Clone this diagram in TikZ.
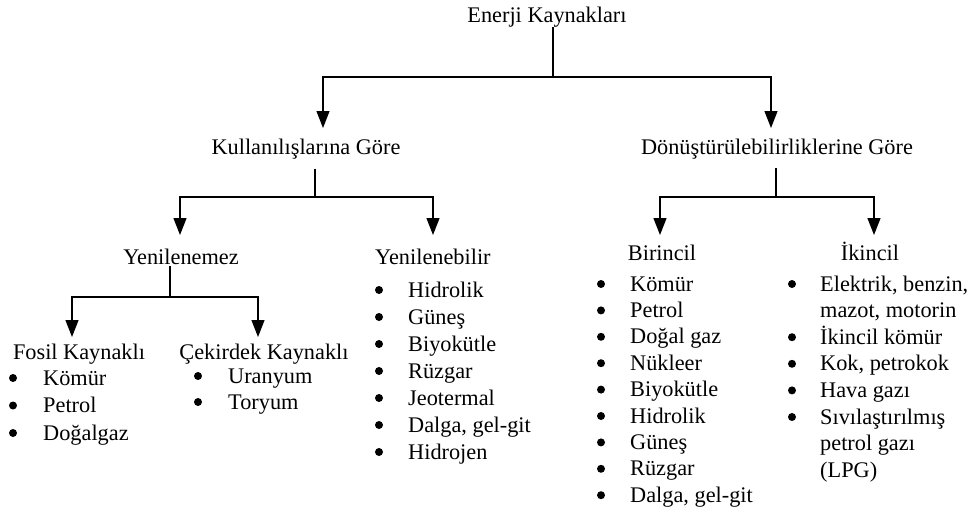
\documentclass[tikz,border=0pt]{standalone}
\usepackage{fontspec}
\setmainfont{Liberation Serif}
\usetikzlibrary{arrows.meta}
\begin{document}
\begin{tikzpicture}[x=1pt,y=-1pt,
  lbl/.style={inner sep=0pt, anchor=base, font=\fontsize{22.3}{26.7}\selectfont},
  item/.style={inner sep=0pt, anchor=base west, font=\fontsize{22.3}{26.7}\selectfont},
  link/.style={line width=1.3pt},
  arr/.style={link, -{Triangle[length=17pt,width=13pt]}},
  dot/.style={circle, fill, inner sep=0pt, minimum size=8pt}
]
\useasboundingbox (0,0) rectangle (972,522);

% headings
\node[lbl] (top)  at (547,22)  {Enerji Kaynakları};
\node[lbl] (kul)  at (306,154) {Kullanılışlarına Göre};
\node[lbl] (don)  at (777,154) {Dönüştürülebilirliklerine Göre};
\node[lbl] (yenz) at (181,264) {Yenilenemez};
\node[lbl, anchor=base west] (yenb) at (375,264) {Yenilenebilir};
\node[lbl] (bir)  at (662,260) {Birincil};
\node[lbl] (ikn)  at (870,260) {İkincil};
\node[lbl] (fos)  at (79,359)  {Fosil Kaynaklı};
\node[lbl] (cek)  at (264,359) {Çekirdek Kaynaklı};

% junctions and arrow ends
\coordinate (j0)    at (553,77);
\coordinate (kulin) at (323,128);
\coordinate (donin) at (771,128);
\coordinate (kj)    at (315,197);
\coordinate (yenzin) at (180,235);
\coordinate (yenbin) at (433,235);
\coordinate (dj)    at (776,197);
\coordinate (birin) at (660,235);
\coordinate (iknin) at (874,235);
\coordinate (yj)    at (170,297);
\coordinate (fosin) at (72,337);
\coordinate (cekin) at (258,337);

% top level
\draw[link] (top.south -| j0) -- (j0);
\draw[arr] (j0) -| (kulin);
\draw[arr] (j0) -| (donin);
% by use
\draw[link] (kul.south -| kj) ++(0,10) -- (kj);
\draw[arr] (kj) -| (yenzin);
\draw[arr] (kj) -| (yenbin);
% by convertibility
\draw[link] (don.south -| dj) ++(0,9) -- (dj);
\draw[arr] (dj) -| (birin);
\draw[arr] (dj) -| (iknin);
% non-renewable
\draw[link] (yenz.south -| yj) ++(0,2) -- (yj);
\draw[arr] (yj) -| (fosin);
\draw[arr] (yj) -| (cekin);

% fossil list
\foreach \t [count=\i from 0] in {Kömür, Petrol, Doğalgaz} {
  \node[dot] (fos-d\i) at (13, 378+27.5*\i) {};
  \node[item] (fos-t\i) at (43, 385+27.5*\i) {\t};
}
% nuclear list
\foreach \t [count=\i from 0] in {Uranyum, Toryum} {
  \node[dot] (cek-d\i) at (198, 376+26*\i) {};
  \node[item] (cek-t\i) at (228, 383+26*\i) {\t};
}
% renewable list
\foreach \t [count=\i from 0] in {Hidrolik, Güneş, Biyokütle, Rüzgar, Jeotermal, {Dalga, gel-git}, Hidrojen} {
  \node[dot] (yenb-d\i) at (379, 290+27*\i) {};
  \node[item] (yenb-t\i) at (408, 297+27*\i) {\t};
}
% primary list
\foreach \t [count=\i from 0] in {Kömür, Petrol, Doğal gaz, Nükleer, Biyokütle, Hidrolik, Güneş, Rüzgar, {Dalga, gel-git}} {
  \node[dot] (bir-d\i) at (601, 284+26.4*\i) {};
  \node[item] (bir-t\i) at (630, 291+26.4*\i) {\t};
}
% secondary list
\foreach \t [count=\i from 0] in {{Elektrik, benzin,}, {mazot, motorin}, İkincil kömür, {Kok, petrokok}, Hava gazı, Sıvılaştırılmış, petrol gazı, (LPG)} {
  \node[item] (ikn-t\i) at (820, 291+26.6*\i) {\t};
}
\foreach \i in {0,2,3,4,5} {
  \node[dot] (ikn-d\i) at (792, 284+26.6*\i) {};
}
\end{tikzpicture}
\end{document}
